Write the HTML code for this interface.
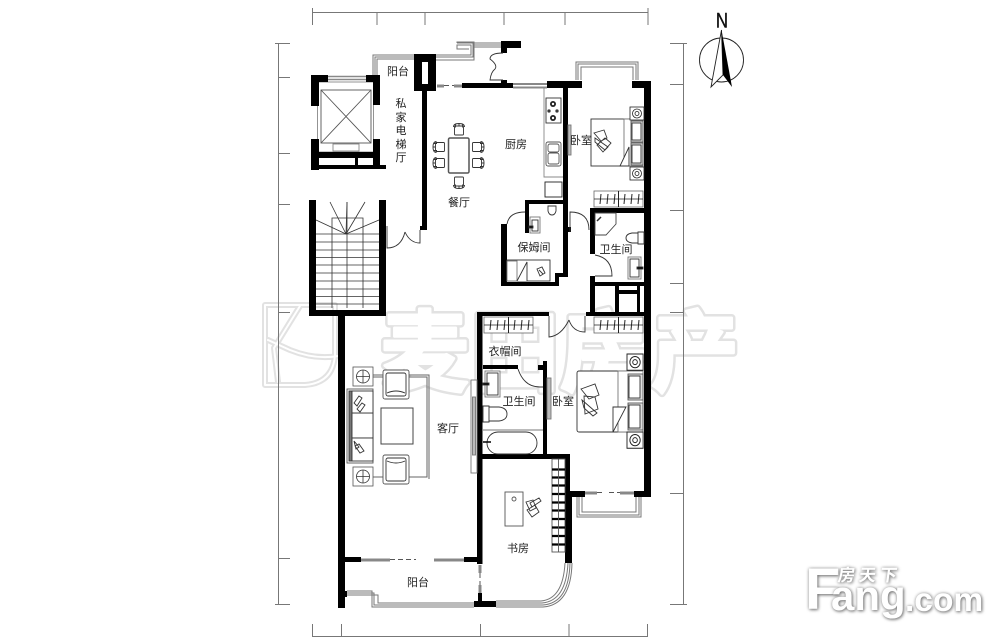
<!DOCTYPE html>
<html><head><meta charset="utf-8"><style>
html,body{margin:0;padding:0;background:#fff}
#w{position:relative;width:1000px;height:637px;overflow:hidden;background:#fff}
svg{position:absolute;left:0;top:0}
.t{font-family:"Liberation Sans","Noto Sans CJK SC",sans-serif;font-size:11px;fill:#222;text-anchor:middle}
.f{position:absolute;font-family:"Liberation Sans",sans-serif;font-weight:bold;color:#fff;text-shadow:1px 1px 3px #777,0 0 3px #aaa;white-space:nowrap;line-height:1}
</style></head><body><div id="w">
<svg width="1000" height="637" viewBox="0 0 1000 637" xmlns="http://www.w3.org/2000/svg">
<defs>
<g id="chair" fill="#fff" stroke="#333" stroke-width=".9"><rect x="-4.500" y="-4" width="9" height="9" rx="1"/><path d="M-5.500-3q0-3.500 5.500-3.500t5.500 3.500M-3.500-5.500v3M3.500-5.500v3M0-6.500v2" fill="none"/></g>
<g id="wr" fill="#fff" stroke="#333" stroke-width=".8"><rect x="0" y="0" width="49" height="16" stroke="#666"/><path d="M0 8h49" stroke="#222"/><path d="M7 3l-1 10M14 3l-1 10M21 3l-1 10M24.500 0v16M31 3l-1 10M38 3l-1 10M45 3l-1 10" stroke="#222" stroke-width="1"/></g>
<g id="ns" fill="#fff" stroke="#222" stroke-width=".8"><rect width="14" height="13"/><circle cx="7" cy="6.500" r="4.500"/><circle cx="7" cy="6.500" r="2"/></g>
<g id="st" fill="#fff" stroke="#555" stroke-width=".8"><rect x="-10" y="-9.500" width="20" height="19"/><circle r="6.500" stroke="#333"/><path d="M-6.500 0h13M0-6.500v13" stroke="#333"/></g>
<g id="arm" fill="#fff" stroke="#333" stroke-width=".9"><rect x="0" y="0" width="26" height="29" rx="2" stroke="#555"/><rect x="3" y="3" width="20" height="23" rx="2"/><path d="M4 23q9-4 18 0" fill="none"/></g>
</defs>

<!-- watermark -->
<g font-family="'Liberation Sans','Noto Sans CJK SC',sans-serif" font-size="88" font-weight="700" stroke-linejoin="round">
<g fill="#e2e2e2" stroke="#e2e2e2" stroke-width="8">
<text x="381" y="384">麦</text><text x="471" y="384">田</text><text x="560" y="384">房</text><text x="651" y="384">产</text>
</g>
<g fill="#fff" stroke="#fff" stroke-width="3">
<text x="381" y="384">麦</text><text x="471" y="384">田</text><text x="560" y="384">房</text><text x="651" y="384">产</text>
</g>
</g>
<g fill="none" stroke-linejoin="round" stroke-linecap="round">
<path d="M265 305h70v50q-2 28-30 30h-40zM300 306l-26 42 4 34M268 340l22 10q25 10 48 6" stroke="#e2e2e2" stroke-width="6"/>
<path d="M265 305h70v50q-2 28-30 30h-40zM300 306l-26 42 4 34M268 340l22 10q25 10 48 6" stroke="#fff" stroke-width="2"/>
</g>

<!-- dimension lines -->
<g stroke="#777" stroke-width="1" fill="none">
<path d="M312 12.500h336M312.500 8v17M377 12v13M425 12v13M504 12v13M565 12v13M648 8v17"/>
<path d="M278.500 43v561M275 43.500h15M278 77.500h12M278 153.500h12M278 204.500h12M278 312.500h12M278 558.500h12M275 604.500h15"/>
<path d="M683.500 43v561M670 43.500h17M670 84.500h13M670 210.500h13M670 283.500h13M670 312.500h13M670 493.500h13M670 604.500h17"/>
<path d="M312.500 624v13M341.500 624v13M480.500 624v13M569 624v13M647.500 624v13M312 636.500h336"/>
</g>

<!-- thin gray rails -->
<g fill="none" stroke="#777" stroke-width="1">
<path d="M373 75V55h41M375 75V57h39M377 75V59h37"/>
<path d="M436 55h35v-10h-14v4h12M436 57h37V43h-16M436 60h38V42h-17v1"/>
<path d="M474 43h27M474 45h27M474 47h27"/>
<path d="M576 80V62h62v18M578 80V64h58v16M581 80V67h52v13"/>
<path d="M577 497v20h64v-20M579 497v18h60v-18M582 497v15h54v-15"/>
<path d="M347 591h25v16h102M347 593h27v12h100M347 595h31v8h96"/>
<path d="M496 607h47q28-2 29-44M496 605h47q26-2 27-42M496 603h46q24-2 26-40M496 601h45q22-2 24-38"/>
</g>

<!-- elevator -->
<g fill="none" stroke="#555" stroke-width=".9">
<rect x="317.500" y="82" width="56" height="70" stroke="#888"/>
<rect x="321" y="90" width="50" height="53"/><path d="M321 90l50 53M371 90l-50 53"/>
<rect x="333" y="144" width="26" height="7" stroke="#888"/>
<path d="M328 76.500h38M328 79.500h38" stroke="#888" stroke-width="1.500"/>
</g>
<!-- stair -->
<g fill="none" stroke="#333" stroke-width=".8">
<path d="M346 234L330 202M346 234L347 202M346 234L365 202M346 234L316 220M346 234L379 220"/>
<path d="M332 308V218h31v90M347 202v106"/>
<path d="M316 234h63M316 242h63M316 250h63M316 257.500h63M316 265h63M316 273h63M316 281h63M316 289h63M316 296.500h63M316 304h63"/>
</g>

<!-- black walls -->
<g fill="#000">
<rect x="311" y="75" width="17" height="7"/><rect x="311" y="75" width="8" height="31"/>
<rect x="366" y="75" width="14" height="7"/><rect x="373" y="75" width="7" height="30"/>
<rect x="311" y="139" width="8" height="31"/><rect x="373" y="139" width="7" height="30"/>
<rect x="311" y="152" width="69" height="6"/><rect x="311" y="165" width="75" height="4"/><rect x="355" y="158" width="3" height="8"/>
<rect x="309" y="200" width="7" height="116"/><rect x="379" y="200" width="7" height="116"/><rect x="309" y="310" width="77" height="6"/>
<rect x="338" y="316" width="7" height="292"/>
<rect x="422" y="90" width="5" height="140"/><rect x="420" y="226" width="7" height="4"/>
<path d="M414 54h22v37h-22zM422 62v22h6V62z" fill-rule="evenodd"/>
<rect x="462" y="83" width="51" height="5"/><rect x="501" y="41" width="20" height="7"/><rect x="501" y="48" width="6" height="5"/><rect x="501" y="80" width="6" height="4"/>
<rect x="547" y="81" width="35" height="7"/><rect x="632" y="81" width="19" height="7"/>
<rect x="644" y="81" width="7" height="416"/>
<rect x="563" y="88" width="5" height="189"/><rect x="568" y="227" width="3" height="5"/>
<rect x="525" y="200" width="40" height="4"/><rect x="525" y="200" width="4" height="33"/>
<rect x="501" y="224" width="6" height="62"/><rect x="501" y="282" width="58" height="4"/>
<rect x="555" y="273" width="13" height="4"/><rect x="555" y="273" width="4" height="13"/>
<rect x="590" y="208" width="55" height="5"/><rect x="590" y="208" width="5" height="46"/>
<rect x="590" y="276" width="5" height="40"/><rect x="590" y="282" width="55" height="4"/>
<rect x="615" y="286" width="4" height="28"/><rect x="637" y="286" width="3" height="28"/><rect x="619" y="290" width="18" height="4"/>
<rect x="586" y="312" width="59" height="4"/><rect x="477" y="312" width="72" height="4"/>
<rect x="477" y="312" width="5.500" height="252"/><rect x="483" y="365" width="35" height="4"/>
<rect x="543" y="361" width="4" height="94"/><rect x="538" y="365" width="5" height="5"/>
<rect x="477" y="454" width="93" height="5"/>
<rect x="565" y="454" width="5" height="38"/><rect x="565" y="491" width="7" height="72"/>
<rect x="565" y="491" width="20" height="6"/><rect x="634" y="491" width="17" height="6"/>
<rect x="345" y="557" width="16" height="5"/><rect x="464" y="557" width="14" height="5"/>
<rect x="345" y="591" width="2" height="6"/>
<rect x="474" y="601" width="22" height="6"/><rect x="478" y="593" width="4" height="8"/>
</g>

<!-- openings -->
<g stroke="#888" stroke-width="3" fill="none">
<path d="M437 86h7M454 86h8M361 560h29M434 560h30M585 493h12M620 493h14"/>
<path d="M480 565v8M480 585v8"/>
</g>
<g stroke="#555" stroke-width="1" fill="none">
<path d="M444 85.500h10M390 559.500h26M597 492.500h8M609 492.500h11M480 573v12" stroke-dasharray="5 3"/>
<path d="M513 84h34M513 87.500h34" stroke="#888" stroke-width="2"/>
</g>

<!-- doors -->
<g fill="none" stroke="#333" stroke-width=".9">
<path d="M387 226v22q14 0 18-16M405 232q5 11 15 11v-13"/>
<path d="M503 53q-13 0-13 6 8 6 5 10-4 3-5 11h13"/>
<path d="M507 224q2-12 18-12"/>
<path d="M570 232v-20q19 0 19 18"/>
<path d="M595 255q17 3 17 21h-17"/>
<path d="M549 316v21q12-1 20-17M569 320q4 12 16 12v-16"/>
<path d="M518 369q6 18 22 18h3"/>
</g>

<!-- panels -->
<g fill="#fff" stroke="#777" stroke-width=".9">
<rect x="568" y="125" width="3" height="30" fill="#bbb"/>
<rect x="547" y="378" width="4" height="41" fill="#bbb"/>
<rect x="471" y="380" width="6" height="93"/><rect x="472.500" y="397" width="3" height="58" fill="#bbb"/>
</g>

<!-- dining -->
<g>
<rect x="448.500" y="138" width="20.500" height="35" rx="1.500" fill="#fff" stroke="#555" stroke-width="1.500"/>
<use href="#chair" x="459" y="130"/><use href="#chair" transform="translate(459 182) rotate(180)"/>
<use href="#chair" transform="translate(439.500 147) rotate(-90)"/><use href="#chair" transform="translate(439.500 163) rotate(-90)"/>
<use href="#chair" transform="translate(477.500 147) rotate(90)"/><use href="#chair" transform="translate(477.500 163) rotate(90)"/>
</g>

<!-- kitchen -->
<g fill="#fff" stroke="#555" stroke-width=".9">
<path d="M544 88v89h19" fill="none" stroke="#888"/>
<rect x="546" y="98" width="15" height="25" stroke="#333"/>
<circle cx="553" cy="104" r="3" fill="#222" stroke="none"/><circle cx="553" cy="118" r="3" fill="#222" stroke="none"/>
<circle cx="553" cy="104" r="1.200" stroke="none"/><circle cx="553" cy="118" r="1.200" stroke="none"/>
<circle cx="549" cy="111" r="1.300" fill="#222"/><circle cx="557" cy="111" r="1.300" fill="#222"/>
<rect x="546" y="142" width="15" height="24" rx="2"/><rect x="548" y="144" width="11" height="8" rx="2"/><rect x="548" y="153" width="11" height="11" rx="2"/>
<rect x="545" y="182" width="17" height="15" stroke="#222"/>
</g>

<!-- nanny room -->
<g fill="#fff" stroke="#333" stroke-width=".9">
<path d="M548 206h8v5q-1 4-4 4t-4-4z"/>
<rect x="530" y="217" width="10" height="16" stroke="#777"/><rect x="532" y="220" width="6" height="11"/>
<rect x="529" y="226" width="4" height="2" fill="#000"/>
<rect x="507" y="260" width="43" height="21"/><rect x="507" y="261" width="10" height="20" stroke="#777"/>
<path d="M517 281l10-19v19" fill="#fff"/><path d="M537 269l5-2 3 6-5 3z"/><path d="M539 270l4 4"/>
</g>

<!-- bedroom 1 -->
<g fill="#fff" stroke="#333" stroke-width=".9">
<rect x="591" y="119" width="52" height="47"/>
<rect x="624" y="119" width="19" height="47" stroke="#777"/>
<rect x="631" y="121" width="12" height="21" fill="#ddd" stroke="#555"/><rect x="632" y="123" width="9" height="17"/>
<rect x="631" y="143" width="12" height="22" fill="#ddd" stroke="#555"/><rect x="632" y="145" width="9" height="18"/>
<path d="M620 166l9-19v19z"/>
<path d="M594 133l10-3 3 8-6 3zM597 145l8-7 6 5-8 9zM595 138l13 9-3 3-10-8z"/>
<use href="#ns" x="630" y="107"/><use href="#ns" x="630" y="167"/>
<use href="#wr" x="594" y="191"/>
</g>

<!-- bath 1 -->
<g fill="#fff" stroke="#333" stroke-width=".9">
<path d="M595 213h21v11l-10 11h-11z" stroke="#444"/><path d="M597 221l4-4" stroke-width="1.500"/>
<path d="M644 232h-6v12h6zM638 233h-6q-6 1-6 5t6 5h6z"/>
<rect x="628" y="257" width="13" height="22" stroke="#777"/><rect x="630" y="259" width="9" height="18"/>
<rect x="637" y="267" width="6" height="2" fill="#000"/>
</g>

<!-- living room -->
<g>
<path d="M373 377h54v100h-54M373 375h56v104" fill="none" stroke="#666" stroke-width="1"/>
<use href="#st" x="363" y="376.500"/><use href="#st" x="363" y="476.500"/>
<use href="#arm" x="383" y="370"/><use href="#arm" transform="translate(383 484) scale(1 -1)"/>
<g fill="#fff" stroke="#333" stroke-width=".9">
<rect x="347" y="389" width="26" height="74" stroke="#555"/>
<rect x="349" y="391" width="3" height="70" fill="#777"/>
<rect x="352" y="413" width="21" height="25"/>
<rect x="352" y="391" width="21" height="22"/><rect x="352" y="438" width="21" height="23"/>
<path d="M354 403l5-7 3 2-5 8zM357 409l5-6 3 2-5 7zM354 441l5 6-3 2zM355 446l5 7 4-2-5-7z"/>
</g>
<rect x="381" y="408" width="32" height="36" fill="#fff" stroke="#444"/>
</g>

<!-- bath 2 -->
<g fill="#fff" stroke="#333" stroke-width=".9">
<rect x="485" y="371" width="15" height="26" stroke="#777"/><rect x="487" y="373" width="11" height="22"/>
<rect x="483" y="383" width="6" height="2" fill="#000"/>
<path d="M483 406h6v16h-6zM489 407h10q8 1 8 7t-8 7h-10z"/>
<path d="M483 430h60" stroke="#777" fill="none"/>
<rect x="487" y="432" width="50" height="22" rx="11"/>
<path d="M483 442h8" stroke="#000" stroke-width="1.500"/>
<use href="#wr" x="484" y="317"/><use href="#wr" x="594" y="317"/>
</g>

<!-- bedroom 2 -->
<g fill="#fff" stroke="#333" stroke-width=".9">
<rect x="577" y="371" width="66" height="61" rx="2"/>
<rect x="618" y="371" width="25" height="61" stroke="#777"/>
<rect x="628" y="374" width="15" height="26" fill="#ddd" stroke="#555"/><rect x="629" y="376" width="11" height="22"/>
<rect x="628" y="403" width="15" height="27" fill="#ddd" stroke="#555"/><rect x="629" y="405" width="11" height="23"/>
<path d="M613 432v-25h13z"/>
<path d="M581 389l14-5 4 11-10 4zM584 396l11 1 3 12-13 5zM582 400l15 13-4 3-9-8z"/>
<use href="#ns" transform="translate(627 354) scale(1.150 1.250)"/><use href="#ns" transform="translate(627 432) scale(1.150 1.250)"/>
</g>

<!-- study -->
<g fill="#fff" stroke="#555" stroke-width=".9">
<rect x="552" y="459" width="13" height="93"/>
<path d="M552 469.500h13M552 477.500h13M552 485.500h13M552 494h13M552 502.500h13M552 510.500h13M552 519h13M552 527.500h13M552 536h13M552 544.500h13" stroke="#000" stroke-width="2.200"/>
<path d="M558.500 459v93" stroke="#555"/>
<rect x="505" y="492" width="18" height="34"/>
<circle cx="514" cy="499" r="2"/>
<path d="M526 502l7-2 3 8-6 3zM530 503l9-5 2 3-9 6zM527 510l8-5 4 7-7 5z" stroke="#333"/>
</g>

<!-- labels -->
<text class="t" x="398" y="75">阳台</text>
<text class="t" x="401" y="107">私</text><text class="t" x="401" y="121">家</text><text class="t" x="401" y="134">电</text><text class="t" x="401" y="148">梯</text><text class="t" x="401" y="161">厅</text>
<text class="t" x="459" y="206">餐厅</text>
<text class="t" x="516" y="148">厨房</text>
<text class="t" x="581" y="144">卧室</text>
<text class="t" x="534" y="251">保姆间</text>
<text class="t" x="616" y="253">卫生间</text>
<text class="t" x="505" y="355">衣帽间</text>
<text class="t" x="519" y="405">卫生间</text>
<text class="t" x="563" y="405">卧室</text>
<text class="t" x="518" y="552">书房</text>
<text class="t" x="448" y="432">客厅</text>
<text class="t" x="418" y="586">阳台</text>

<!-- compass -->
<circle cx="721.500" cy="60" r="22" fill="none" stroke="#222" stroke-width=".9"/>
<path d="M721.500 30l-10.500 57 12-12z" fill="#fff" stroke="#222" stroke-width=".9"/>
<path d="M721.500 30l10.500 57-9-12z" fill="#000"/>
<text x="722" y="27.500" font-family="'Liberation Sans',sans-serif" font-size="21" text-anchor="middle" fill="#111" stroke="#111" stroke-width=".4" transform="translate(722 0) scale(.8 1) translate(-722 0)">N</text>
</svg>

<!-- logo -->
<div class="f" style="left:805px;top:561px;font-size:58px">F</div>
<div class="f" style="left:831px;top:574.500px;font-size:42px">ang</div>
<div class="f" style="left:905px;top:583.600px;font-size:33.500px">.com</div>
<div class="f" style="left:838px;top:567px;font-size:17px;font-family:'Liberation Sans','Noto Sans CJK SC',sans-serif;letter-spacing:4px;transform:skewX(-8deg)">房天下</div>
</div></body></html>
